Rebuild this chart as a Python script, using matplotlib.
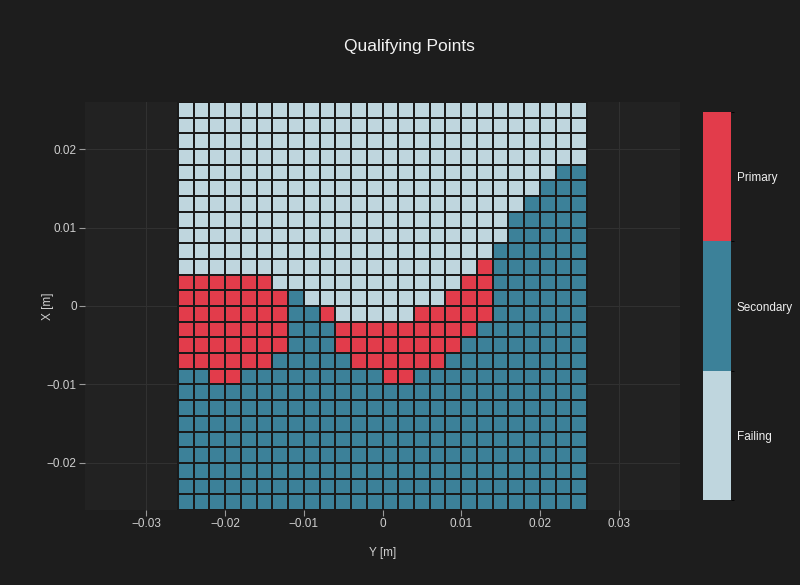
import numpy as np
import matplotlib.pyplot as plt
from matplotlib.colors import ListedColormap, BoundaryNorm
from matplotlib.ticker import FuncFormatter

plt.rcParams['font.family'] = ['Liberation Sans', 'DejaVu Sans']

categories = ["Failing", "Secondary", "Primary"]
cat_colors = ["#bfd6de", "#3c8199", "#e23c4b"]

# cell centres: horizontal axis is Y [m], vertical axis is X [m] (top row first)
y_pos = np.linspace(-0.025, 0.025, 26)
x_pos = np.linspace(0.025, -0.025, 26)

# run-length rows, top to bottom: F = Failing, S = Secondary, P = Primary
rows = [
    "F26",
    "F26",
    "F26",
    "F26",
    "F24 S2",
    "F23 S3",
    "F22 S4",
    "F21 S5",
    "F21 S5",
    "F20 S6",
    "F19 P1 S6",
    "P6 F12 P2 S6",
    "P7 S1 F9 P3 S6",
    "P7 S2 P1 F5 P5 S6",
    "P7 S3 P9 S7",
    "P7 S3 P8 S8",
    "P6 S5 P6 S9",
    "S2 P2 S9 P2 S11",
    "S26",
    "S26",
    "S26",
    "S26",
    "S26",
    "S26",
    "S26",
    "S26",
]

codes = {"F": 0, "S": 1, "P": 2}


def expand(row):
    out = []
    for tok in row.split():
        out += [codes[tok[0]]] * int(tok[1:])
    assert len(out) == 26, row
    return out


grid = np.array([expand(r) for r in rows])

paper = "#1d1d1d"
plotbg = "#222222"
tick_col = "#cfcfcf"

fig = plt.figure(figsize=(8, 5.85), dpi=100, facecolor=paper)
ax = fig.add_axes([85 / 800, 75 / 585, 595 / 800, 408 / 585])
ax.set_facecolor(plotbg)

cmap = ListedColormap(cat_colors)
norm = BoundaryNorm([-0.5, 0.5, 1.5, 2.5], 3)
mesh = ax.pcolormesh(y_pos, x_pos, grid, shading="nearest", cmap=cmap, norm=norm,
                     edgecolors="#1a1a1a", linewidth=1.3, zorder=2)

ax.set_xlim(-0.0378, 0.0378)
ax.set_ylim(-0.026, 0.026)
ticks = [-0.03, -0.02, -0.01, 0, 0.01, 0.02, 0.03]
ax.set_xticks(ticks)
ax.set_yticks([-0.02, -0.01, 0, 0.01, 0.02])


def fmt(v, pos):
    if abs(v) < 1e-9:
        return "0"
    return ("%.2f" % v).replace("-", "\u2212")


ax.xaxis.set_major_formatter(FuncFormatter(fmt))
ax.yaxis.set_major_formatter(FuncFormatter(fmt))
ax.grid(True, color="#313131", linewidth=0.8, zorder=0)
ax.set_axisbelow(True)
for s in ax.spines.values():
    s.set_visible(False)
ax.tick_params(colors="#9a9a9a", labelcolor=tick_col, labelsize=8.5, length=4, width=0.8, pad=2)

ax.set_xlabel("Y [m]", color=tick_col, fontsize=8.5, labelpad=12)
ax.set_ylabel("X [m]", color=tick_col, fontsize=8.5)
ax.yaxis.set_label_coords(-0.052, 0.5)

fig.text(0.512, 0.92, "Qualifying Points", color="#f2f2f2", fontsize=12.5,
         ha="center", va="center")

cax = fig.add_axes([703 / 800, 85 / 585, 28 / 800, 388 / 585])
cb = fig.colorbar(mesh, cax=cax, ticks=[0, 1, 2])
cb.set_ticklabels(categories)
cb.outline.set_visible(False)
cax.tick_params(length=0, labelcolor="#f0f0f0", labelsize=8.5, pad=4)

fig.savefig("out.png", dpi=100, facecolor=paper)
